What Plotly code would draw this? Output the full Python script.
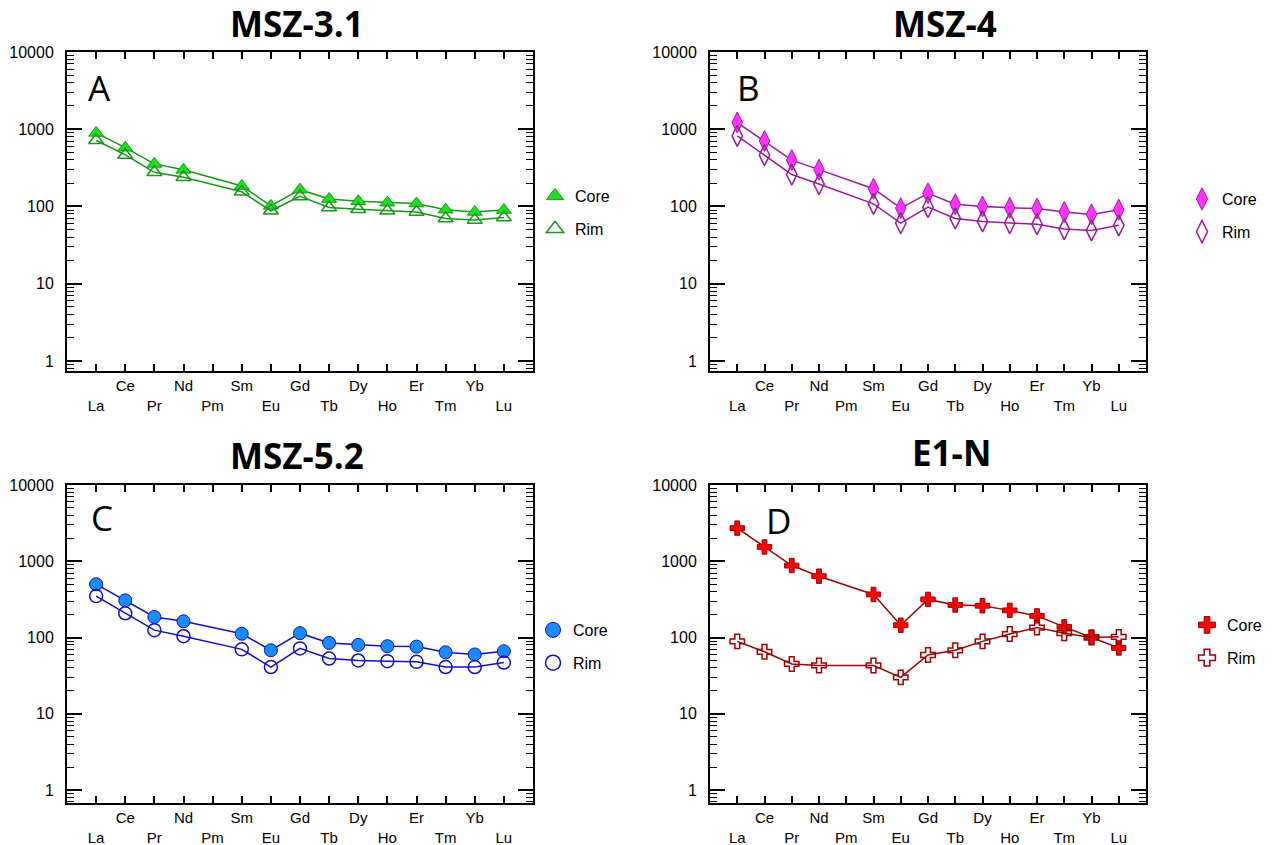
import plotly.graph_objects as go

W, H = 1277, 845

elements = ["La", "Ce", "Pr", "Nd", "Pm", "Sm", "Eu", "Gd", "Tb", "Dy", "Ho", "Er", "Tm", "Yb", "Lu"]

# Chondrite-normalized REE values (Pm not measured)
a_core = [896, 577, 356, 298, None, 184, 102, 165, 125, 117, 112, 109, 91, 85, 90]
a_rim = [720, 465, 277, 239, None, 155, 88, 135, 97, 92, 88, 85, 70, 67, 72]
b_core = [1220, 705, 398, 300, None, 170, 95, 148, 107, 100, 96, 94, 85, 79, 91]
b_rim = [820, 462, 259, 195, None, 108, 61, 98, 70, 64, 61, 59, 51, 49, 57]
c_core = [500, 307, 186, 163, None, 112, 68, 114, 85, 80, 77, 76, 64, 60, 66]
c_rim = [349, 208, 125, 104, None, 70, 41, 72, 53, 50, 49, 48, 41, 41, 47]
d_core = [2720, 1540, 878, 637, None, 367, 145, 316, 267, 261, 227, 192, 138, 101, 73]
d_rim = [89, 65, 45, 43, None, 43, 30, 59, 68, 89, 111, 135, 114, 100, 102]

y_tickvals = [1, 10, 100, 1000, 10000]
y_ticktext = ["1", "10", "100", "1000", "10000"]

titles = ["MSZ-3.1", "MSZ-4", "MSZ-5.2", "E1-N"]
letters = ["A", "B", "C", "D"]

panels = [
    dict(core=a_core, rim=a_rim, sym="triangle-up", size=13, fill="#22dd22", edge="#149a14",
         px=(67, 533), py=(52, 371), yr=(-0.13, 4.0), title_xy=(297, 24), letter_xy=(99, 88),
         leg_xy=(535, 179)),
    dict(core=b_core, rim=b_rim, sym="diamond-tall", size=15, fill="#ff33ff", edge="#a0189f",
         px=(710, 1146), py=(52, 371), yr=(-0.13, 4.0), title_xy=(945, 24), letter_xy=(748, 88),
         leg_xy=(1182, 182)),
    dict(core=c_core, rim=c_rim, sym="circle", size=13, fill="#1a8cff", edge="#1010c8",
         px=(67, 533), py=(485, 803), yr=(-0.17, 4.0), title_xy=(297, 455), letter_xy=(102, 517),
         leg_xy=(533, 613)),
    dict(core=d_core, rim=d_rim, sym="cross", size=12, fill="#ff0000", edge="#a00000",
         px=(710, 1146), py=(485, 803), yr=(-0.17, 4.0), title_xy=(951, 452), letter_xy=(778, 520),
         leg_xy=(1187, 608)),
]

xpos = list(range(1, len(elements) + 1))
ticktext = [("<br>" + e) if i % 2 == 0 else e for i, e in enumerate(elements)]

FONT = "Liberation Sans, Arial, sans-serif"

fig = go.Figure()
annotations = []
layout = {}

for k, p in enumerate(panels):
    n = "" if k == 0 else str(k + 1)
    xa, ya = "x" + n, "y" + n
    legname = "legend" + n
    for name, vals, open_ in (("Core", p["core"], False), ("Rim", p["rim"], True)):
        sym = p["sym"] + ("-open" if open_ else "")
        fig.add_trace(go.Scatter(
            x=xpos, y=vals, mode="lines+markers", connectgaps=True, xaxis=xa, yaxis=ya,
            showlegend=False, name=name,
            line=dict(color=p["edge"], width=1.5),
            marker=dict(symbol=sym, size=p["size"],
                        color=p["edge"] if open_ else p["fill"],
                        line=dict(color=p["edge"], width=1.5 if open_ else 1)),
        ))
        fig.add_trace(go.Scatter(
            x=[None], y=[None], mode="markers", xaxis=xa, yaxis=ya, name=name,
            legend=legname, showlegend=True, legendgroup=name + n,
            marker=dict(symbol=sym, size=p["size"] + 2,
                        color=p["edge"] if open_ else p["fill"],
                        line=dict(color=p["edge"], width=1.5 if open_ else 1)),
        ))

    x0, x1 = p["px"]
    y0, y1 = p["py"]
    layout["xaxis" + n] = dict(
        domain=[x0 / W, x1 / W], anchor=ya, range=[0, 16], automargin=False,
        tickmode="array", tickvals=xpos, ticktext=ticktext,
        ticks="inside", ticklen=7, tickwidth=1.5, tickcolor="black",
        showline=True, linewidth=2, linecolor="black", mirror="allticks",
        showgrid=False, zeroline=False, ticklabelstandoff=0,
        tickfont=dict(family=FONT, size=15, color="black"),
    )
    layout["yaxis" + n] = dict(
        domain=[1 - y1 / H, 1 - y0 / H], anchor=xa, type="log", range=list(p["yr"]),
        automargin=False,
        tickmode="array", tickvals=y_tickvals, ticktext=y_ticktext,
        ticks="inside", ticklen=15, tickwidth=1.5, tickcolor="black",
        minor=dict(ticks="inside", ticklen=7, tickwidth=1.2, tickcolor="black",
                   tickmode="linear", dtick="D1", showgrid=False),
        showline=True, linewidth=2, linecolor="black", mirror="allticks",
        showgrid=False, zeroline=False, ticklabelstandoff=8,
        tickfont=dict(family=FONT, size=16, color="black"),
    )
    lx, ly = p["leg_xy"]
    layout[legname] = dict(
        x=lx / W, y=1 - ly / H, xanchor="left", yanchor="top",
        bgcolor="rgba(0,0,0,0)", borderwidth=0, tracegroupgap=9,
        font=dict(family=FONT, size=16, color="black"),
        itemwidth=30,
    )
    tx, ty = p["title_xy"]
    annotations.append(dict(
        x=tx / W, y=1 - ty / H, xref="paper", yref="paper", text="<b>" + titles[k] + "</b>",
        showarrow=False, xanchor="center", yanchor="middle",
        font=dict(family="Open Sans, sans-serif", size=35, color="black"),
    ))
    lx2, ly2 = p["letter_xy"]
    annotations.append(dict(
        x=lx2 / W, y=1 - ly2 / H, xref="paper", yref="paper", text=letters[k],
        showarrow=False, xanchor="center", yanchor="middle",
        font=dict(family="Open Sans, sans-serif", size=35, color="black"),
    ))

fig.update_layout(
    width=W, height=H, margin=dict(l=0, r=0, t=0, b=0),
    paper_bgcolor="white", plot_bgcolor="white",
    annotations=annotations, **layout,
)

fig.write_html("out.html")
